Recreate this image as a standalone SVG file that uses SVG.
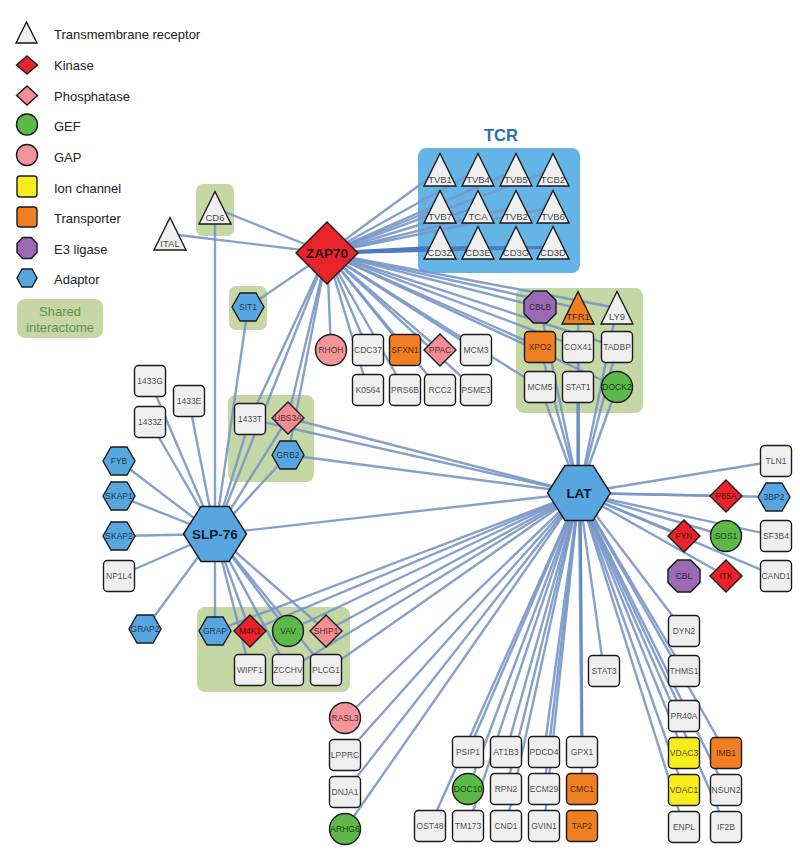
<svg xmlns="http://www.w3.org/2000/svg" xmlns:xlink="http://www.w3.org/1999/xlink" width="800" height="864" viewBox="0 0 800 864">
<style>
text{font-family:"Liberation Sans",Arial,sans-serif;}
.lg{font-size:13px;fill:#222;}
.sh{font-size:13px;fill:#5f8f4b;text-anchor:middle;}
.grp{fill:#c4d7a5;}
.tcr{fill:#64b4e6;}
.e{stroke:#7896c8;stroke-width:2.4;stroke-opacity:0.9;fill:none;}
.ed{stroke:#4d7cbf;stroke-width:3;fill:none;}
.n{stroke:#1a1a1a;stroke-width:1.4;}
.gray{fill:#efefef;}
.red{fill:#e8232b;}
.pink{fill:#f38c93;}
.green{fill:#5cb848;}
.gap{fill:#f2959b;}
.yel{fill:#f7ec1e;}
.ora{fill:#f07e22;}
.pur{fill:#9a6ab4;}
.blue{fill:#58a6e0;}
.l{font-size:8.5px;fill:#000;fill-opacity:0.72;text-anchor:middle;}
.lt{font-size:9.5px;fill:#000;fill-opacity:0.75;text-anchor:middle;}
.big{font-size:13.5px;font-weight:bold;fill:#000;fill-opacity:0.85;text-anchor:middle;}
</style>
<defs>
<rect id="sq" x="-15.5" y="-15.5" width="31" height="31" rx="4"/>
<circle id="ci" r="15.5"/>
<polygon id="di" points="0,-16 16,0 0,16 -16,0"/>
<polygon id="hx" points="-16,0 -8,-14 8,-14 16,0 8,14 -8,14"/>
<polygon id="oc" points="-6.6,-16 6.6,-16 16,-6.6 16,6.6 6.6,16 -6.6,16 -16,6.6 -16,-6.6"/>
<polygon id="tr" points="0,-16.5 16,16 -16,16"/>
<polygon id="bighx" points="-31.5,0 -14,-27.5 14,-27.5 31.5,0 14,27.5 -14,27.5"/>
</defs>
<rect width="800" height="864" fill="#fff"/>

<g id="legend">
<polygon class="n gray" points="26.5,22 37,43 16,43"/>
<text class="lg" x="54" y="39">Transmembrane receptor</text>
<polygon class="n red" points="27,56 37.5,65 27,74 16.5,65"/>
<text class="lg" x="54" y="70">Kinase</text>
<polygon class="n pink" points="27,86 37.5,95.5 27,105 16.5,95.5"/>
<text class="lg" x="54" y="101">Phosphatase</text>
<circle class="n green" cx="27" cy="124.5" r="10.5"/>
<text class="lg" x="54" y="131">GEF</text>
<circle class="n gap" cx="27" cy="155" r="10.5"/>
<text class="lg" x="54" y="162">GAP</text>
<rect class="n yel" x="17" y="176" width="20" height="21" rx="3"/>
<text class="lg" x="54" y="193">Ion channel</text>
<rect class="n ora" x="17" y="207" width="20" height="20" rx="3"/>
<text class="lg" x="54" y="223">Transporter</text>
<polygon class="n pur" points="22.7,237.5 31.3,237.5 37,243.5 37,252.5 31.3,258.5 22.7,258.5 17,252.5 17,243.5"/>
<text class="lg" x="54" y="254">E3 ligase</text>
<polygon class="n blue" points="17,278 22,269 32,269 37,278 32,287 22,287"/>
<text class="lg" x="54" y="284">Adaptor</text>
<rect class="grp" x="17" y="299" width="86" height="39" rx="8"/>
<text class="sh" x="60" y="316">Shared</text>
<text class="sh" x="60" y="332">interactome</text>
</g>

<g id="groups">
<rect class="tcr" x="418" y="148" width="162" height="125" rx="8"/>
<text x="501" y="141" font-size="16.5" font-weight="bold" fill="#2a6db5" text-anchor="middle" style="font-family:'Liberation Sans',Arial,sans-serif">TCR</text>
<rect class="grp" x="196" y="184" width="38" height="52" rx="7"/>
<rect class="grp" x="229" y="286" width="38" height="44" rx="7"/>
<rect class="grp" x="228" y="395" width="86" height="87" rx="8"/>
<rect class="grp" x="516" y="288" width="127" height="125" rx="8"/>
<rect class="grp" x="197" y="607" width="153" height="85" rx="8"/>
</g>

<g id="edges">
<line class="e" x1="327" y1="253" x2="215" y2="208"/>
<line class="e" x1="327" y1="253" x2="170" y2="234"/>
<line class="e" x1="327" y1="253" x2="248" y2="307"/>
<line class="e" x1="327" y1="253" x2="440" y2="170"/>
<line class="e" x1="327" y1="253" x2="478" y2="170"/>
<line class="e" x1="327" y1="253" x2="516" y2="170"/>
<line class="e" x1="327" y1="253" x2="553" y2="170"/>
<line class="e" x1="327" y1="253" x2="440" y2="207"/>
<line class="e" x1="327" y1="253" x2="478" y2="207"/>
<line class="e" x1="327" y1="253" x2="516" y2="207"/>
<line class="e" x1="327" y1="253" x2="553" y2="207"/>
<line class="ed" x1="327" y1="253" x2="440" y2="247"/>
<line class="ed" x1="327" y1="253" x2="478" y2="247"/>
<line class="ed" x1="327" y1="253" x2="516" y2="247"/>
<line class="ed" x1="327" y1="253" x2="553" y2="247"/>
<line class="e" x1="327" y1="253" x2="331" y2="350"/>
<line class="e" x1="327" y1="253" x2="368" y2="350"/>
<line class="e" x1="327" y1="253" x2="368" y2="390"/>
<line class="e" x1="327" y1="253" x2="405" y2="350"/>
<line class="e" x1="327" y1="253" x2="405" y2="390"/>
<line class="e" x1="327" y1="253" x2="440" y2="350"/>
<line class="e" x1="327" y1="253" x2="440" y2="390"/>
<line class="e" x1="327" y1="253" x2="476" y2="350"/>
<line class="e" x1="327" y1="253" x2="476" y2="390"/>
<line class="e" x1="327" y1="253" x2="540" y2="307"/>
<line class="e" x1="327" y1="253" x2="578" y2="308"/>
<line class="e" x1="327" y1="253" x2="617" y2="308"/>
<line class="e" x1="327" y1="253" x2="540" y2="347"/>
<line class="e" x1="327" y1="253" x2="578" y2="347"/>
<line class="e" x1="327" y1="253" x2="617" y2="347"/>
<line class="e" x1="327" y1="253" x2="540" y2="387"/>
<line class="e" x1="327" y1="253" x2="617" y2="387"/>
<line class="e" x1="327" y1="253" x2="215" y2="534"/>
<line class="e" x1="327" y1="253" x2="250" y2="419"/>
<line class="e" x1="327" y1="253" x2="288" y2="418"/>
<line class="e" x1="327" y1="253" x2="288" y2="455"/>

<line class="e" x1="215" y1="534" x2="215" y2="208"/>
<line class="e" x1="215" y1="534" x2="248" y2="307"/>
<line class="e" x1="215" y1="534" x2="150" y2="381"/>
<line class="e" x1="215" y1="534" x2="189" y2="401"/>
<line class="e" x1="215" y1="534" x2="150" y2="422"/>
<line class="e" x1="215" y1="534" x2="250" y2="419"/>
<line class="e" x1="215" y1="534" x2="288" y2="418"/>
<line class="e" x1="215" y1="534" x2="288" y2="455"/>
<line class="e" x1="215" y1="534" x2="119" y2="461"/>
<line class="e" x1="215" y1="534" x2="119" y2="496"/>
<line class="e" x1="215" y1="534" x2="119" y2="536"/>
<line class="e" x1="215" y1="534" x2="119" y2="576"/>
<line class="e" x1="215" y1="534" x2="145" y2="629"/>
<line class="e" x1="215" y1="534" x2="215" y2="631"/>
<line class="e" x1="215" y1="534" x2="250" y2="631"/>
<line class="e" x1="215" y1="534" x2="288" y2="631"/>
<line class="e" x1="215" y1="534" x2="326" y2="631"/>
<line class="e" x1="215" y1="534" x2="250" y2="670"/>
<line class="e" x1="215" y1="534" x2="288" y2="670"/>
<line class="e" x1="215" y1="534" x2="326" y2="670"/>
<line class="e" x1="215" y1="534" x2="579" y2="493"/>

<line class="e" x1="579" y1="493" x2="250" y2="419"/>
<line class="e" x1="579" y1="493" x2="288" y2="418"/>
<line class="e" x1="579" y1="493" x2="288" y2="455"/>
<line class="e" x1="579" y1="493" x2="215" y2="631"/>
<line class="e" x1="579" y1="493" x2="250" y2="631"/>
<line class="e" x1="579" y1="493" x2="288" y2="631"/>
<line class="e" x1="579" y1="493" x2="326" y2="631"/>
<line class="e" x1="579" y1="493" x2="288" y2="670"/>
<line class="e" x1="579" y1="493" x2="326" y2="670"/>
<line class="e" x1="579" y1="493" x2="345" y2="718"/>
<line class="e" x1="579" y1="493" x2="345" y2="755"/>
<line class="e" x1="579" y1="493" x2="345" y2="792"/>
<line class="e" x1="579" y1="493" x2="345" y2="829"/>
<line class="e" x1="579" y1="493" x2="430" y2="826"/>
<line class="e" x1="579" y1="493" x2="468" y2="826"/>
<line class="e" x1="579" y1="493" x2="468" y2="789"/>
<line class="e" x1="579" y1="493" x2="468" y2="752"/>
<line class="e" x1="579" y1="493" x2="506" y2="752"/>
<line class="e" x1="579" y1="493" x2="506" y2="789"/>
<line class="e" x1="579" y1="493" x2="506" y2="826"/>
<line class="e" x1="579" y1="493" x2="544" y2="752"/>
<line class="e" x1="579" y1="493" x2="544" y2="789"/>
<line class="e" x1="579" y1="493" x2="544" y2="826"/>
<line class="ed" x1="580" y1="493" x2="582" y2="752"/>
<line class="e" x1="579" y1="493" x2="582" y2="789"/>
<line class="e" x1="579" y1="493" x2="604" y2="671"/>
<line class="e" x1="579" y1="493" x2="684" y2="631"/>
<line class="e" x1="579" y1="493" x2="684" y2="671"/>
<line class="e" x1="579" y1="493" x2="684" y2="716"/>
<line class="e" x1="579" y1="493" x2="684" y2="753"/>
<line class="e" x1="579" y1="493" x2="684" y2="790"/>
<line class="e" x1="579" y1="493" x2="684" y2="827"/>
<line class="e" x1="579" y1="493" x2="726" y2="753"/>
<line class="e" x1="579" y1="493" x2="726" y2="790"/>
<line class="e" x1="579" y1="493" x2="726" y2="827"/>
<line class="e" x1="579" y1="493" x2="776" y2="461"/>
<line class="e" x1="579" y1="493" x2="726" y2="496"/>
<line class="e" x1="579" y1="493" x2="774" y2="497"/>
<line class="e" x1="579" y1="493" x2="776" y2="536"/>
<line class="e" x1="579" y1="493" x2="726" y2="536"/>
<line class="e" x1="579" y1="493" x2="684" y2="536"/>
<line class="e" x1="579" y1="493" x2="776" y2="576"/>
<line class="e" x1="579" y1="493" x2="726" y2="576"/>
<line class="e" x1="579" y1="493" x2="540" y2="347"/>
<line class="e" x1="579" y1="493" x2="578" y2="347"/>
<line class="e" x1="579" y1="493" x2="617" y2="347"/>
<line class="e" x1="579" y1="493" x2="540" y2="387"/>
<line class="ed" x1="578" y1="493" x2="578" y2="387"/>
<line class="e" x1="579" y1="493" x2="617" y2="387"/>
<line class="e" x1="579" y1="493" x2="540" y2="307"/>
<line class="e" x1="579" y1="493" x2="578" y2="308"/>
<line class="e" x1="579" y1="493" x2="617" y2="308"/>
</g>

<g id="nodes">
<g id="n-ZAP70" transform="translate(327,253)"><polygon class="n red" points="0,-31 31,0 0,31 -31,0"/><text class="big" y="5">ZAP70</text></g>
<g id="n-LAT" transform="translate(579,493)"><use xlink:href="#bighx" class="n blue"/><text class="big" y="5">LAT</text></g>
<g id="n-SLP76" transform="translate(215,534)"><use xlink:href="#bighx" class="n blue"/><text class="big" y="5">SLP-76</text></g>

<g id="n-CD6" transform="translate(215,208)"><use xlink:href="#tr" class="n gray"/><text class="lt" y="13">CD6</text></g>
<g id="n-ITAL" transform="translate(170,234)"><use xlink:href="#tr" class="n gray"/><text class="lt" y="13">ITAL</text></g>
<g id="n-SIT1" transform="translate(248,307)"><use xlink:href="#hx" class="n blue"/><text class="l" y="3">SIT1</text></g>

<g id="n-TVB1" transform="translate(440,170)"><use xlink:href="#tr" class="n gray"/><text class="lt" y="13">TVB1</text></g>
<g id="n-TVB4" transform="translate(478,170)"><use xlink:href="#tr" class="n gray"/><text class="lt" y="13">TVB4</text></g>
<g id="n-TVB5" transform="translate(516,170)"><use xlink:href="#tr" class="n gray"/><text class="lt" y="13">TVB5</text></g>
<g id="n-TCB2" transform="translate(553,170)"><use xlink:href="#tr" class="n gray"/><text class="lt" y="13">TCB2</text></g>
<g id="n-TVB7" transform="translate(440,207)"><use xlink:href="#tr" class="n gray"/><text class="lt" y="13">TVB7</text></g>
<g id="n-TCA" transform="translate(478,207)"><use xlink:href="#tr" class="n gray"/><text class="lt" y="13">TCA</text></g>
<g id="n-TVB2" transform="translate(516,207)"><use xlink:href="#tr" class="n gray"/><text class="lt" y="13">TVB2</text></g>
<g id="n-TVB6" transform="translate(553,207)"><use xlink:href="#tr" class="n gray"/><text class="lt" y="13">TVB6</text></g>
<g id="n-CD3Z" transform="translate(440,243)"><use xlink:href="#tr" class="n gray"/><text class="lt" y="13">CD3Z</text></g>
<g id="n-CD3E" transform="translate(478,243)"><use xlink:href="#tr" class="n gray"/><text class="lt" y="13">CD3E</text></g>
<g id="n-CD3G" transform="translate(516,243)"><use xlink:href="#tr" class="n gray"/><text class="lt" y="13">CD3G</text></g>
<g id="n-CD3D" transform="translate(553,243)"><use xlink:href="#tr" class="n gray"/><text class="lt" y="13">CD3D</text></g>

<g id="n-RHOH" transform="translate(331,350)"><use xlink:href="#ci" class="n gap"/><text class="l" y="3">RHOH</text></g>
<g id="n-CDC37" transform="translate(368,350)"><use xlink:href="#sq" class="n gray"/><text class="l" y="3">CDC37</text></g>
<g id="n-SFXN1" transform="translate(405,350)"><use xlink:href="#sq" class="n ora"/><text class="l" y="3">SFXN1</text></g>
<g id="n-PPAC" transform="translate(440,350)"><use xlink:href="#di" class="n pink"/><text class="l" y="3">PPAC</text></g>
<g id="n-MCM3" transform="translate(476,350)"><use xlink:href="#sq" class="n gray"/><text class="l" y="3">MCM3</text></g>
<g id="n-K0564" transform="translate(368,390)"><use xlink:href="#sq" class="n gray"/><text class="l" y="3">K0564</text></g>
<g id="n-PRS6B" transform="translate(405,390)"><use xlink:href="#sq" class="n gray"/><text class="l" y="3">PRS6B</text></g>
<g id="n-RCC2" transform="translate(440,390)"><use xlink:href="#sq" class="n gray"/><text class="l" y="3">RCC2</text></g>
<g id="n-PSME3" transform="translate(476,390)"><use xlink:href="#sq" class="n gray"/><text class="l" y="3">PSME3</text></g>

<g id="n-CBLB" transform="translate(540,307)"><use xlink:href="#oc" class="n pur"/><text class="l" y="3">CBLB</text></g>
<g id="n-TFR1" transform="translate(578,308)"><use xlink:href="#tr" class="n ora"/><text class="lt" y="12">TFR1</text></g>
<g id="n-LY9" transform="translate(617,308)"><use xlink:href="#tr" class="n gray"/><text class="lt" y="12">LY9</text></g>
<g id="n-XPO2" transform="translate(540,347)"><use xlink:href="#sq" class="n ora"/><text class="l" y="3">XPO2</text></g>
<g id="n-COX41" transform="translate(578,347)"><use xlink:href="#sq" class="n gray"/><text class="l" y="3">COX41</text></g>
<g id="n-TADBP" transform="translate(617,347)"><use xlink:href="#sq" class="n gray"/><text class="l" y="3">TADBP</text></g>
<g id="n-MCM5" transform="translate(540,387)"><use xlink:href="#sq" class="n gray"/><text class="l" y="3">MCM5</text></g>
<g id="n-STAT1" transform="translate(578,387)"><use xlink:href="#sq" class="n gray"/><text class="l" y="3">STAT1</text></g>
<g id="n-DOCK2" transform="translate(617,387)"><use xlink:href="#ci" class="n green"/><text class="l" y="3">DOCK2</text></g>

<g id="n-1433G" transform="translate(150,381)"><use xlink:href="#sq" class="n gray"/><text class="l" y="3">1433G</text></g>
<g id="n-1433E" transform="translate(189,401)"><use xlink:href="#sq" class="n gray"/><text class="l" y="3">1433E</text></g>
<g id="n-1433Z" transform="translate(150,422)"><use xlink:href="#sq" class="n gray"/><text class="l" y="3">1433Z</text></g>
<g id="n-1433T" transform="translate(250,419)"><use xlink:href="#sq" class="n gray"/><text class="l" y="3">1433T</text></g>
<g id="n-UBS3A" transform="translate(288,418)"><use xlink:href="#di" class="n pink"/><text class="l" y="3">UBS3A</text></g>
<g id="n-GRB2" transform="translate(288,455)"><use xlink:href="#hx" class="n blue"/><text class="l" y="3">GRB2</text></g>

<g id="n-FYB" transform="translate(119,461)"><use xlink:href="#hx" class="n blue"/><text class="l" y="3">FYB</text></g>
<g id="n-SKAP1" transform="translate(119,496)"><use xlink:href="#hx" class="n blue"/><text class="l" y="3">SKAP1</text></g>
<g id="n-SKAP2" transform="translate(119,536)"><use xlink:href="#hx" class="n blue"/><text class="l" y="3">SKAP2</text></g>
<g id="n-NP1L4" transform="translate(119,576)"><use xlink:href="#sq" class="n gray"/><text class="l" y="3">NP1L4</text></g>
<g id="n-GRAP2" transform="translate(145,629)"><use xlink:href="#hx" class="n blue"/><text class="l" y="3">GRAP2</text></g>

<g id="n-GRAP" transform="translate(215,631)"><use xlink:href="#hx" class="n blue"/><text class="l" y="3">GRAP</text></g>
<g id="n-M4K1" transform="translate(250,631)"><use xlink:href="#di" class="n red"/><text class="l" y="3">M4K1</text></g>
<g id="n-VAV" transform="translate(288,631)"><use xlink:href="#ci" class="n green"/><text class="l" y="3">VAV</text></g>
<g id="n-SHIP1" transform="translate(326,631)"><use xlink:href="#di" class="n pink"/><text class="l" y="3">SHIP1</text></g>
<g id="n-WIPF1" transform="translate(250,670)"><use xlink:href="#sq" class="n gray"/><text class="l" y="3">WIPF1</text></g>
<g id="n-ZCCHV" transform="translate(288,670)"><use xlink:href="#sq" class="n gray"/><text class="l" y="3">ZCCHV</text></g>
<g id="n-PLCG1" transform="translate(326,670)"><use xlink:href="#sq" class="n gray"/><text class="l" y="3">PLCG1</text></g>

<g id="n-RASL3" transform="translate(345,718)"><use xlink:href="#ci" class="n gap"/><text class="l" y="3">RASL3</text></g>
<g id="n-LPPRC" transform="translate(345,755)"><use xlink:href="#sq" class="n gray"/><text class="l" y="3">LPPRC</text></g>
<g id="n-DNJA1" transform="translate(345,792)"><use xlink:href="#sq" class="n gray"/><text class="l" y="3">DNJA1</text></g>
<g id="n-ARHG6" transform="translate(345,829)"><use xlink:href="#ci" class="n green"/><text class="l" y="3">ARHG6</text></g>

<g id="n-PSIP1" transform="translate(468,752)"><use xlink:href="#sq" class="n gray"/><text class="l" y="3">PSIP1</text></g>
<g id="n-AT1B3" transform="translate(506,752)"><use xlink:href="#sq" class="n gray"/><text class="l" y="3">AT1B3</text></g>
<g id="n-PDCD4" transform="translate(544,752)"><use xlink:href="#sq" class="n gray"/><text class="l" y="3">PDCD4</text></g>
<g id="n-GPX1" transform="translate(582,752)"><use xlink:href="#sq" class="n gray"/><text class="l" y="3">GPX1</text></g>
<g id="n-DOC10" transform="translate(468,789)"><use xlink:href="#ci" class="n green"/><text class="l" y="3">DOC10</text></g>
<g id="n-RPN2" transform="translate(506,789)"><use xlink:href="#sq" class="n gray"/><text class="l" y="3">RPN2</text></g>
<g id="n-ECM29" transform="translate(544,789)"><use xlink:href="#sq" class="n gray"/><text class="l" y="3">ECM29</text></g>
<g id="n-CMC1" transform="translate(582,789)"><use xlink:href="#sq" class="n ora"/><text class="l" y="3">CMC1</text></g>
<g id="n-OST48" transform="translate(430,826)"><use xlink:href="#sq" class="n gray"/><text class="l" y="3">OST48</text></g>
<g id="n-TM173" transform="translate(468,826)"><use xlink:href="#sq" class="n gray"/><text class="l" y="3">TM173</text></g>
<g id="n-CND1" transform="translate(506,826)"><use xlink:href="#sq" class="n gray"/><text class="l" y="3">CND1</text></g>
<g id="n-GVIN1" transform="translate(544,826)"><use xlink:href="#sq" class="n gray"/><text class="l" y="3">GVIN1</text></g>
<g id="n-TAP2" transform="translate(582,826)"><use xlink:href="#sq" class="n ora"/><text class="l" y="3">TAP2</text></g>

<g id="n-STAT3" transform="translate(604,671)"><use xlink:href="#sq" class="n gray"/><text class="l" y="3">STAT3</text></g>
<g id="n-DYN2" transform="translate(684,631)"><use xlink:href="#sq" class="n gray"/><text class="l" y="3">DYN2</text></g>
<g id="n-THMS1" transform="translate(684,671)"><use xlink:href="#sq" class="n gray"/><text class="l" y="3">THMS1</text></g>
<g id="n-PR40A" transform="translate(684,716)"><use xlink:href="#sq" class="n gray"/><text class="l" y="3">PR40A</text></g>
<g id="n-VDAC3" transform="translate(684,753)"><use xlink:href="#sq" class="n yel"/><text class="l" y="3">VDAC3</text></g>
<g id="n-IMB1" transform="translate(726,753)"><use xlink:href="#sq" class="n ora"/><text class="l" y="3">IMB1</text></g>
<g id="n-VDAC1" transform="translate(684,790)"><use xlink:href="#sq" class="n yel"/><text class="l" y="3">VDAC1</text></g>
<g id="n-NSUN2" transform="translate(726,790)"><use xlink:href="#sq" class="n gray"/><text class="l" y="3">NSUN2</text></g>
<g id="n-ENPL" transform="translate(684,827)"><use xlink:href="#sq" class="n gray"/><text class="l" y="3">ENPL</text></g>
<g id="n-IF2B" transform="translate(726,827)"><use xlink:href="#sq" class="n gray"/><text class="l" y="3">IF2B</text></g>

<g id="n-TLN1" transform="translate(776,461)"><use xlink:href="#sq" class="n gray"/><text class="l" y="3">TLN1</text></g>
<g id="n-P85A" transform="translate(726,496)"><use xlink:href="#di" class="n red"/><text class="l" y="3">P85A</text></g>
<g id="n-3BP2" transform="translate(774,497)"><use xlink:href="#hx" class="n blue"/><text class="l" y="3">3BP2</text></g>
<g id="n-FYN" transform="translate(684,536)"><use xlink:href="#di" class="n red"/><text class="l" y="3">FYN</text></g>
<g id="n-SOS1" transform="translate(726,536)"><use xlink:href="#ci" class="n green"/><text class="l" y="3">SOS1</text></g>
<g id="n-SF3B4" transform="translate(776,536)"><use xlink:href="#sq" class="n gray"/><text class="l" y="3">SF3B4</text></g>
<g id="n-CBL" transform="translate(684,576)"><use xlink:href="#oc" class="n pur"/><text class="l" y="3">CBL</text></g>
<g id="n-ITK" transform="translate(726,576)"><use xlink:href="#di" class="n red"/><text class="l" y="3">ITK</text></g>
<g id="n-CAND1" transform="translate(776,576)"><use xlink:href="#sq" class="n gray"/><text class="l" y="3">CAND1</text></g>
</g>
</svg>
